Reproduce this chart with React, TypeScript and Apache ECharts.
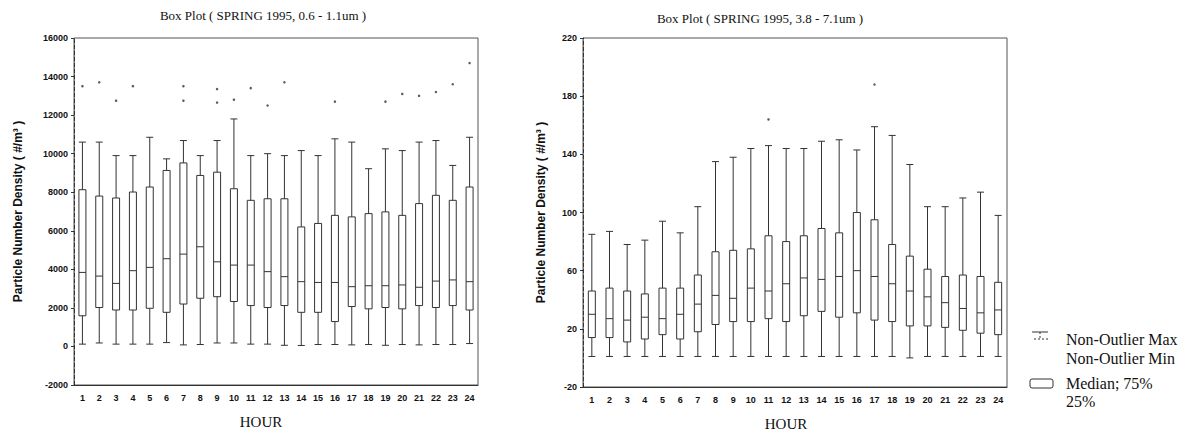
import React, { useEffect, useRef } from "react";
import * as echarts from "echarts";

const hours = ["1","2","3","4","5","6","7","8","9","10","11","12","13","14","15","16","17","18","19","20","21","22","23","24"];

// Left chart: SPRING 1995, 0.6 - 1.1um
const leftMin = [120, 180, 120, 120, 120, 200, 80, 100, 180, 180, 120, 120, 60, 50, 100, 100, 80, 100, 60, 100, 80, 100, 100, 150];
const leftQ1 = [1590, 2020, 1890, 1890, 1980, 1770, 2200, 2500, 2580, 2330, 2120, 2020, 2120, 1770, 1770, 1290, 2070, 1950, 2020, 1950, 2120, 2020, 2120, 1890];
const leftMedian = [3840, 3650, 3270, 3930, 4100, 4550, 4790, 5170, 4390, 4220, 4220, 3880, 3620, 3360, 3320, 3320, 3100, 3150, 3150, 3190, 3070, 3390, 3450, 3360];
const leftQ3 = [8130, 7800, 7700, 8010, 8270, 9130, 9520, 8870, 9040, 8180, 7580, 7660, 7660, 6200, 6380, 6800, 6720, 6890, 6980, 6800, 7410, 7840, 7580, 8270];
const leftMax = [10600, 10600, 9900, 9900, 10850, 9730, 10680, 9900, 10680, 11800, 9900, 10000, 9900, 10160, 9900, 10770, 10600, 9220, 10250, 10160, 10600, 10680, 9390, 10850];
const leftOutlierHours = ["1", "2", "3", "4", "7", "7", "9", "9", "10", "11", "12", "13", "16", "19", "20", "21", "22", "23", "24"];
const leftOutlierValues = [13500, 13700, 12750, 13500, 13500, 12750, 13350, 12650, 12800, 13400, 12500, 13700, 12700, 12700, 13100, 13000, 13200, 13600, 14700];
const leftTicks = { min: -2000, max: 16000, interval: 2000 };

// Right chart: SPRING 1995, 3.8 - 7.1um
const rightMin = [1, 1, 1, 1, 1, 1, 1, 1, 1, 1, 1, 1, 1, 1, 1, 1, 1, 1, 0, 1, 1, 1, 1, 1];
const rightQ1 = [14, 14, 11, 13, 16, 13, 18, 23, 25, 25, 27, 25, 29, 32, 28, 31, 26, 25, 22, 22, 21, 19, 17, 16];
const rightMedian = [30, 27, 26, 28, 27, 30, 37, 43, 41, 48, 46, 51, 55, 54, 56, 60, 56, 51, 46, 42, 38, 34, 31, 33];
const rightQ3 = [46, 48, 46, 44, 48, 48, 57, 73, 74, 75, 84, 80, 84, 89, 86, 100, 95, 78, 70, 61, 56, 57, 56, 52];
const rightMax = [85, 87, 78, 81, 94, 86, 104, 135, 138, 144, 146, 144, 144, 149, 150, 143, 159, 153, 133, 104, 104, 110, 114, 98];
const rightOutlierHours = ["11", "17"];
const rightOutlierValues = [164, 188];
const rightTicks = { min: -20, max: 220, interval: 40 };

const titles = ["Box Plot ( SPRING 1995, 0.6 - 1.1um )", "Box Plot ( SPRING 1995, 3.8 - 7.1um )"];
const yName = "Particle Number Density ( #/m\u00B3 )";
const xName = "HOUR";
const legendLabels = ["Non-Outlier Max", "Non-Outlier Min", "Median; 75%", "25%"];

const serif = "'Liberation Serif', 'DejaVu Serif', serif";
const sans = "'Liberation Sans', Arial, sans-serif";
const ink = "#333";

function boxData(mn: number[], q1: number[], md: number[], q3: number[], mx: number[]) {
  return mn.map((v, i) => [v, q1[i], md[i], q3[i], mx[i]]);
}

export default function App() {
  const ref = useRef<HTMLDivElement>(null);
  useEffect(() => {
    if (!ref.current) return;
    const chart = echarts.init(ref.current, null, { renderer: "svg" });
    const xAxisBase = (gridIndex: number) => ({
      type: "category",
      gridIndex,
      data: hours,
      axisLine: { show: true, onZero: false, lineStyle: { color: ink, width: 1 } },
      axisTick: { show: false },
      axisLabel: { fontFamily: sans, fontSize: 9, fontWeight: "bold", color: "#111", margin: 8, interval: 0 },
      splitLine: { show: false },
    });
    const yAxisBase = (gridIndex: number, t: { min: number; max: number; interval: number }, gap: number) => ({
      type: "value",
      gridIndex,
      min: t.min,
      max: t.max,
      interval: t.interval,
      name: yName,
      nameLocation: "middle",
      nameGap: gap,
      nameTextStyle: { fontFamily: sans, fontSize: 12, fontWeight: "bold", color: "#111" },
      axisLine: { show: true, onZero: false, lineStyle: { color: ink, width: 1, type: "dashed" } },
      axisTick: { show: true, length: 3, lineStyle: { color: ink } },
      axisLabel: { fontFamily: sans, fontSize: 9, fontWeight: "bold", color: "#111", margin: 6, formatter: (v: number) => String(v) },
      splitLine: { show: false },
    });
    const boxStyle = { color: "#fff", borderColor: ink, borderWidth: 1 };
    chart.setOption({
      animation: false,
      backgroundColor: "#fff",
      grid: [
        { left: 74, top: 38, width: 404, height: 347, show: true, borderColor: "#555", borderWidth: 1, backgroundColor: "transparent" },
        { left: 583, top: 38, width: 424, height: 349, show: true, borderColor: "#555", borderWidth: 1, backgroundColor: "transparent" },
      ],
      xAxis: [xAxisBase(0), xAxisBase(1)],
      yAxis: [yAxisBase(0, leftTicks, 50), yAxisBase(1, rightTicks, 36)],
      series: [
        {
          type: "boxplot",
          xAxisIndex: 0,
          yAxisIndex: 0,
          data: boxData(leftMin, leftQ1, leftMedian, leftQ3, leftMax),
          boxWidth: [7, 7],
          itemStyle: boxStyle,
        },
        {
          type: "scatter",
          xAxisIndex: 0,
          yAxisIndex: 0,
          data: leftOutlierHours.map((h, i) => [h, leftOutlierValues[i]]),
          symbolSize: 2.5,
          itemStyle: { color: ink },
        },
        {
          type: "boxplot",
          xAxisIndex: 1,
          yAxisIndex: 1,
          data: boxData(rightMin, rightQ1, rightMedian, rightQ3, rightMax),
          boxWidth: [7, 7],
          itemStyle: boxStyle,
        },
        {
          type: "scatter",
          xAxisIndex: 1,
          yAxisIndex: 1,
          data: rightOutlierHours.map((h, i) => [h, rightOutlierValues[i]]),
          symbolSize: 2.5,
          itemStyle: { color: ink },
        },
      ],
      graphic: [
        { type: "text", x: 263, y: 15, style: { text: titles[0], font: `13px ${serif}`, fill: "#111", textAlign: "center", textVerticalAlign: "middle" } },
        { type: "text", x: 760, y: 18, style: { text: titles[1], font: `13px ${serif}`, fill: "#111", textAlign: "center", textVerticalAlign: "middle" } },
        { type: "text", x: 261, y: 422, style: { text: xName, font: `15px ${serif}`, fill: "#111", textAlign: "center", textVerticalAlign: "middle" } },
        { type: "text", x: 786, y: 424, style: { text: xName, font: `15px ${serif}`, fill: "#111", textAlign: "center", textVerticalAlign: "middle" } },
        // legend: whisker icon
        { type: "line", shape: { x1: 1032, y1: 332, x2: 1048, y2: 332 }, style: { stroke: ink, lineWidth: 1 } },
        { type: "line", shape: { x1: 1040, y1: 332, x2: 1040, y2: 339 }, style: { stroke: ink, lineWidth: 1, lineDash: [2, 2] } },
        { type: "line", shape: { x1: 1034, y1: 339, x2: 1048, y2: 339 }, style: { stroke: ink, lineWidth: 1, lineDash: [2, 2] } },
        { type: "text", x: 1066, y: 339, style: { text: legendLabels[0], font: `16px ${serif}`, fill: "#111", textVerticalAlign: "middle" } },
        { type: "text", x: 1066, y: 358, style: { text: legendLabels[1], font: `16px ${serif}`, fill: "#111", textVerticalAlign: "middle" } },
        { type: "rect", shape: { x: 1030, y: 379, width: 23, height: 9, r: 2 }, style: { fill: "#fff", stroke: ink, lineWidth: 1 } },
        { type: "text", x: 1066, y: 383, style: { text: legendLabels[2], font: `16px ${serif}`, fill: "#111", textVerticalAlign: "middle" } },
        { type: "text", x: 1066, y: 401, style: { text: legendLabels[3], font: `16px ${serif}`, fill: "#111", textVerticalAlign: "middle" } },
      ],
    });
    return () => chart.dispose();
  }, []);
  return <div ref={ref} style={{ position: "absolute", left: 0, top: 0, width: 1187, height: 436 }} />;
}
